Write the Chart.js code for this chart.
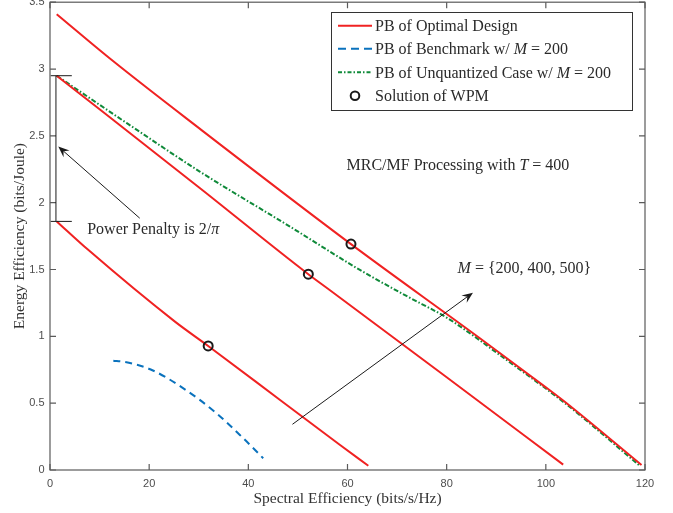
<!DOCTYPE html>
<html>
<head>
<meta charset="utf-8">
<script src="https://cdn.jsdelivr.net/npm/chart.js@4.4.1/dist/chart.umd.min.js"></script>
<style>
  html, body { margin: 0; padding: 0; background: #fff; }
  #wrap { width: 673px; height: 513px; }
</style>
</head>
<body>
<div id="wrap"><canvas id="chart" width="673" height="513"></canvas></div>
<script>
// axis ticks
const xTicks = [0, 20, 40, 60, 80, 100, 120];
const yTicks = [0, 0.5, 1, 1.5, 2, 2.5, 3, 3.5];

// PB of optimal design, M = 200 / 400 / 500
const optM200X = [1.35, 7.7, 25.2, 31.9, 46.4, 58.5, 64.2];
const optM200Y = [1.86, 1.647, 1.11, 0.928, 0.524, 0.187, 0.032];
const optM400X = [1.35, 30.2, 52.1, 56.4, 80, 103.5];
const optM400Y = [2.95, 2.11, 1.465, 1.347, 0.694, 0.04];
const optM500X = [1.35, 12.4, 30.5, 60.7, 86.7, 99.8, 104.2, 119.3];
const optM500Y = [3.41, 3.069, 2.545, 1.69, 0.986, 0.624, 0.499, 0.037];

// PB of benchmark, M = 200
const benchX = [12.77, 14.8, 20.2, 26.9, 33.6, 39.0, 43.0];
const benchY = [0.818, 0.81, 0.754, 0.611, 0.424, 0.237, 0.088];

// PB of unquantized case, M = 200
const unqX = [1.35, 15.5, 30.2, 48.4, 62.5, 72, 80, 86.7, 88.7, 104.2, 119];
const unqY = [2.95, 2.595, 2.233, 1.821, 1.497, 1.30, 1.14, 0.97, 0.915, 0.49, 0.03];

// WPM solutions
const wpmX = [31.9, 52.1, 60.7];
const wpmY = [0.928, 1.465, 1.69];

const RED = "#f02222";
const BLUE = "#0a72bd";
const GREEN = "#108a3a";
const SERIF = "'Liberation Serif', 'Times New Roman', serif";
const SANS = "'Liberation Sans', Arial, sans-serif";

function pts(xs, ys) {
    return xs.map((x, i) => ({ x: x, y: ys[i] }));
}

function redLine(xs, ys) {
    return {
        data: pts(xs, ys), showLine: true, borderColor: RED, borderWidth: 2,
        pointRadius: 0, pointHoverRadius: 0, cubicInterpolationMode: "monotone", order: 1
    };
}

// draw a run of text pieces, italic where flagged
function drawParts(ctx, parts, x, y, size) {
    let cx = x;
    parts.forEach(([txt, ital]) => {
        ctx.font = (ital ? "italic " : "") + size + "px " + SERIF;
        ctx.fillText(txt, cx, y);
        cx += ctx.measureText(txt).width;
    });
}

function arrow(ctx, x0, y0, x1, y1) {
    const a = Math.atan2(y1 - y0, x1 - x0);
    const dx = Math.cos(a), dy = Math.sin(a);
    const L = 11, W = 4.5, N = 7;
    ctx.beginPath();
    ctx.moveTo(x0, y0);
    ctx.lineTo(x1 - dx * N, y1 - dy * N);
    ctx.stroke();
    ctx.beginPath();
    ctx.moveTo(x1, y1);
    ctx.lineTo(x1 - dx * L - dy * W, y1 - dy * L + dx * W);
    ctx.lineTo(x1 - dx * N, y1 - dy * N);
    ctx.lineTo(x1 - dx * L + dy * W, y1 - dy * L - dx * W);
    ctx.closePath();
    ctx.fill();
}

// markers may overhang the plot edge; don't let them shrink the plot area
const noOverflow = {
    id: "noOverflow",
    beforeElementsUpdate(chart) {
        chart.data.datasets.forEach((ds, i) => {
            chart.getDatasetMeta(i).controller.getMaxOverflow = () => 0;
        });
    }
};

const decorations = {
    id: "decorations",
    afterDraw(chart) {
        const ctx = chart.ctx;
        const xs = chart.scales.x, ys = chart.scales.y;
        const area = chart.chartArea;
        const px = v => xs.getPixelForValue(v);
        const py = v => ys.getPixelForValue(v);
        ctx.save();

        // axes box with inward ticks
        ctx.strokeStyle = "#5a5a5a";
        ctx.lineWidth = 1.2;
        ctx.setLineDash([]);
        ctx.strokeRect(area.left, area.top, area.right - area.left, area.bottom - area.top);
        ctx.beginPath();
        xTicks.forEach(v => {
            const x = px(v);
            ctx.moveTo(x, area.bottom); ctx.lineTo(x, area.bottom - 6);
            ctx.moveTo(x, area.top); ctx.lineTo(x, area.top + 6);
        });
        yTicks.forEach(v => {
            const y = py(v);
            ctx.moveTo(area.left, y); ctx.lineTo(area.left + 6, y);
            ctx.moveTo(area.right, y); ctx.lineTo(area.right - 6, y);
        });
        ctx.stroke();

        // y tick labels
        ctx.fillStyle = "#4d4d4d";
        ctx.font = "11px " + SANS;
        ctx.textAlign = "right";
        ctx.textBaseline = "middle";
        yTicks.forEach(v => ctx.fillText(String(v), area.left - 5.5, py(v)));

        // axis titles
        ctx.fillStyle = "#333";
        ctx.textAlign = "center";
        ctx.font = "15.5px " + SERIF;
        ctx.fillText("Spectral Efficiency (bits/s/Hz)", (area.left + area.right) / 2, 499);
        ctx.save();
        ctx.translate(20, (area.top + area.bottom) / 2);
        ctx.rotate(-Math.PI / 2);
        ctx.fillText("Energy Efficiency (bits/Joule)", 0, 0);
        ctx.restore();

        // power penalty bracket
        ctx.strokeStyle = "#1a1a1a";
        ctx.fillStyle = "#1a1a1a";
        ctx.lineWidth = 1;
        ctx.beginPath();
        ctx.moveTo(px(1.2), py(2.95)); ctx.lineTo(px(1.2), py(1.86));
        ctx.moveTo(px(0.15), py(2.95)); ctx.lineTo(px(4.4), py(2.95));
        ctx.moveTo(px(0.15), py(1.86)); ctx.lineTo(px(4.4), py(1.86));
        ctx.stroke();

        arrow(ctx, px(18.1), py(1.884), px(1.67), py(2.42));
        arrow(ctx, px(48.9), py(0.342), px(85.3), py(1.327));

        // annotations
        ctx.textAlign = "left";
        ctx.fillStyle = "#2a2a2a";
        drawParts(ctx, [["Power Penalty is 2/", false], ["\u03c0", true]], px(7.5), py(1.796), 16);
        drawParts(ctx, [["MRC/MF Processing with ", false], ["T", true], [" = 400", false]], px(59.8), py(2.275), 16);
        drawParts(ctx, [["M", true], [" = {200, 400, 500}", false]], px(82.2), py(1.502), 16);

        // legend
        const lx = 331.5, ly = 12.5, lw = 301, lh = 98;
        ctx.fillStyle = "#fff";
        ctx.fillRect(lx, ly, lw, lh);
        ctx.strokeStyle = "#333";
        ctx.lineWidth = 1;
        ctx.strokeRect(lx, ly, lw, lh);
        const rows = [
            { y: 25.7, color: RED, dash: [], parts: [["PB of Optimal Design", false]] },
            { y: 48.7, color: BLUE, dash: [8, 5], parts: [["PB of Benchmark w/ ", false], ["M", true], [" = 200", false]] },
            { y: 72.3, color: GREEN, dash: [4, 2, 1.5, 2], parts: [["PB of Unquantized Case w/ ", false], ["M", true], [" = 200", false]] },
            { y: 95.7, marker: true, parts: [["Solution of WPM", false]] }
        ];
        rows.forEach(r => {
            if (r.marker) {
                ctx.setLineDash([]);
                ctx.strokeStyle = "#1a1a1a";
                ctx.lineWidth = 2;
                ctx.beginPath();
                ctx.arc(355, r.y, 4.3, 0, Math.PI * 2);
                ctx.stroke();
            } else {
                ctx.setLineDash(r.dash);
                ctx.strokeStyle = r.color;
                ctx.lineWidth = 2;
                ctx.beginPath();
                ctx.moveTo(338, r.y); ctx.lineTo(372, r.y);
                ctx.stroke();
            }
            ctx.fillStyle = "#2a2a2a";
            drawParts(ctx, r.parts, 375, r.y + 1, 16);
        });
        ctx.restore();
    }
};

new Chart(document.getElementById("chart"), {
    type: "scatter",
    data: {
        datasets: [
            {
                data: pts(wpmX, wpmY), showLine: false, pointStyle: "circle",
                pointRadius: 4.5, pointHoverRadius: 4.5, pointBorderWidth: 2, pointBorderColor: "#1a1a1a",
                pointBackgroundColor: "rgba(0,0,0,0)", order: 0
            },
            redLine(optM200X, optM200Y),
            redLine(optM400X, optM400Y),
            redLine(optM500X, optM500Y),
            {
                data: pts(unqX, unqY), showLine: true, borderColor: GREEN, borderWidth: 2,
                borderDash: [5, 2, 1.5, 2], pointRadius: 0, pointHoverRadius: 0,
                cubicInterpolationMode: "monotone", order: 2
            },
            {
                data: pts(benchX, benchY), showLine: true, borderColor: BLUE, borderWidth: 2,
                borderDash: [7, 5], pointRadius: 0, pointHoverRadius: 0,
                cubicInterpolationMode: "monotone", order: 3
            }
        ]
    },
    options: {
        responsive: false,
        animation: false,
        events: [],
        layout: { padding: { left: 0, top: 2.2, right: 28, bottom: 0 } },
        plugins: { legend: { display: false }, tooltip: { enabled: false } },
        scales: {
            x: {
                type: "linear", min: 0, max: 120,
                grid: { display: false, drawTicks: false },
                border: { display: false },
                afterBuildTicks: s => { s.ticks = xTicks.map(v => ({ value: v })); },
                afterFit: s => { s.height = 43; },
                ticks: { padding: 7, color: "#4d4d4d", font: { family: SANS, size: 11 }, callback: v => String(v) }
            },
            y: {
                type: "linear", min: 0, max: 3.5,
                grid: { display: false, drawTicks: false },
                border: { display: false },
                afterBuildTicks: s => { s.ticks = yTicks.map(v => ({ value: v })); },
                afterFit: s => { s.width = 50; },
                ticks: { display: false }
            }
        }
    },
    plugins: [noOverflow, decorations]
});
</script>
</body>
</html>
